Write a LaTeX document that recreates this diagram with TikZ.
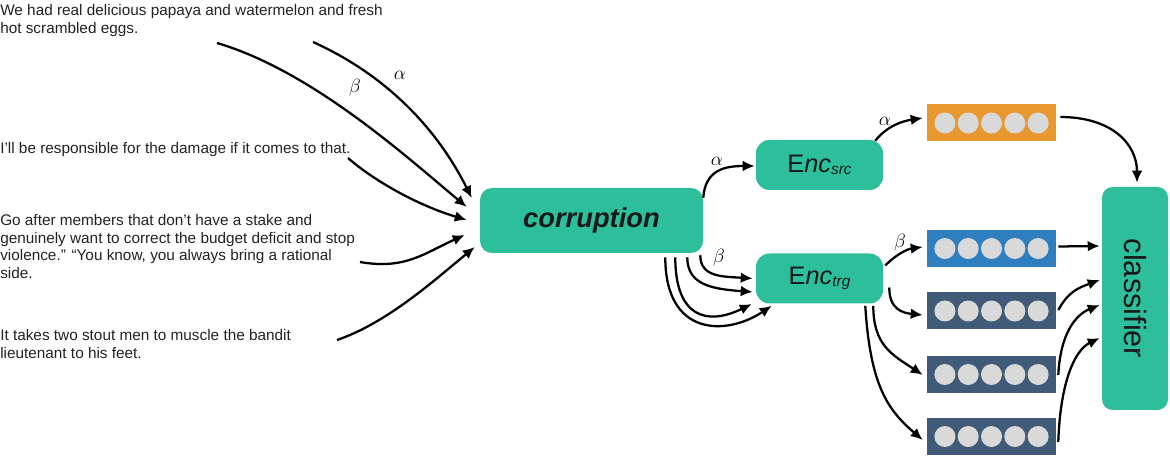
\documentclass[tikz,border=0pt]{standalone}
\usepackage{fontspec}
\setmainfont{Liberation Sans}
\usetikzlibrary{arrows.meta,calc}
\definecolor{tealc}{HTML}{2DBE9B}
\definecolor{orangec}{HTML}{E8982F}
\definecolor{bluec}{HTML}{2F7EBE}
\definecolor{darkc}{HTML}{3F5B77}
\definecolor{dotc}{HTML}{D9D9D9}
\definecolor{textc}{HTML}{222222}
\begin{document}
\begin{tikzpicture}[x=0.75pt,y=-0.75pt,
  box/.style={fill=tealc, rounded corners=9pt, inner sep=0pt, align=center, text=black!90},
  vec/.style={rectangle, inner sep=0pt, minimum width=96.75pt, minimum height=27.75pt},
  dot/.style={circle, fill=dotc, inner sep=0pt, minimum size=15.75pt},
  arr/.style={-{Latex[length=9pt,width=8pt]}, line width=1.7pt},
  txt/.style={anchor=north west, inner sep=0pt, align=left, font=\fontsize{11.5}{13.3}\selectfont, text=textc},
  lab/.style={font=\Large, inner sep=0pt}]
\useasboundingbox (0,0) rectangle (1170,473);

% input sentences
\node[txt] (t1) at (0,4) {We had real delicious papaya and watermelon and fresh\\hot scrambled eggs.};
\node[txt] (t2) at (0,142) {I'll be responsible for the damage if it comes to that.};
\node[txt] (t3) at (0,214) {Go after members that don't have a stake and\\genuinely want to correct the budget deficit and stop\\violence.'' ``You know, you always bring a rational\\side.};
\node[txt] (t4) at (0,329) {It takes two stout men to muscle the bandit\\lieutenant to his feet.};

% main boxes
\node[box, minimum width=167.25pt, minimum height=48.75pt] (corr) at (591.5,220.5)
  {\fontsize{20.5}{24}\selectfont\bfseries\itshape corruption};
\node[box, rounded corners=10pt, minimum width=95.25pt, minimum height=37.5pt] (encs) at (819.5,165)
  {\fontsize{19}{20}\selectfont E\textit{nc}\raisebox{-2pt}{\fontsize{11.5}{12}\selectfont\textit{src}}};
\node[box, rounded corners=10pt, minimum width=95.25pt, minimum height=37.5pt] (enct) at (819.5,278.5)
  {\fontsize{19}{20}\selectfont E\textit{nc}\raisebox{-2pt}{\fontsize{11.5}{12}\selectfont\textit{trg}}};
\node[box, rounded corners=8pt, minimum width=49.5pt, minimum height=167.25pt] (cls) at (1135,298.5)
  {\rotatebox{-90}{\fontsize{23}{25}\selectfont classifier}};

% vectors
\node[vec, fill=orangec] (orng) at (991.5,123) {};
\node[vec, fill=bluec] (blue) at (991.5,248.5) {};
\node[vec, fill=darkc] (d1) at (991.5,311) {};
\node[vec, fill=darkc] (d2) at (991.5,374.5) {};
\node[vec, fill=darkc] (d3) at (991.5,436.5) {};
\foreach \v in {orng,blue,d1,d2,d3}{
  \foreach \k in {-2,-1,0,1,2}{
    \node[dot] (\v-\k) at ($(\v)+(\k*23.3,0)$) {};
  }
}

% start coordinates of the input arrows
\coordinate (sa) at (313,42);
\coordinate (sb) at (217,43);
\coordinate (s2) at (348,158);
\coordinate (s3) at (360,262);
\coordinate (s4) at (337,340);

\draw[arr] (sa) .. controls +(73,33) and +(-35,-70) .. ($(corr.west)+(-8,-22.5)$);
\draw[arr] (sb) .. controls +(95,28) and +(-60,-50) .. ($(corr.west)+(-13,-13.5)$);
\draw[arr] (s2) .. controls +(25,22) and +(-50,-15) .. ($(corr.west)+(-13,-0.5)$);
\draw[arr] (s3) .. controls +(45,8) and +(-40,18) .. ($(corr.west)+(-15,14.5)$);
\draw[arr] (s4) .. controls +(50,-17) and +(-40,33) .. ($(corr.west)+(-5,26.5)$);
\node[lab] (la1) at (400,75) {$\alpha$};
\node[lab] (lb1) at (355,88) {$\beta$};

% corruption -> encoders
\draw[arr] ($(corr.north east)+(0,10)$) .. controls +(2,-28) and +(-30,0) .. ($(encs.west)+(-1,1)$);
\node[lab] (la2) at (717,161) {$\alpha$};
\draw[arr] ($(corr.south east)+(-3,2)$) .. controls +(0,22) and +(-30,-2) .. ($(enct.west)+(-3,0)$);
\node[lab] (lb2) at (719,258) {$\beta$};
\draw[arr] ($(corr.south east)+(-16,4)$) .. controls +(0,28) and +(-40,-3) .. ($(enct.west)+(-3,13.5)$);
\draw[arr] ($(corr.south east)+(-28,4)$) .. controls +(0,60) and +(-45,22) .. ($(enct.west)+(-4,25.5)$);
\draw[arr] ($(corr.south east)+(-38,4)$) .. controls +(0,80) and +(-45,30) .. ($(enct.south west)+(16,2)$);

% encoders -> vectors
\draw[arr] ($(encs.north east)+(-8,1)$) .. controls +(12,-15) and +(-20,3) .. ($(orng.west)+(-4,-5)$);
\node[lab] (la3) at (885,121) {$\alpha$};
\draw[arr] ($(enct.east)+(2,-13)$) .. controls +(12,-12) and +(-15,2) .. ($(blue.west)+(-4,-1.5)$);
\node[lab] (lb3) at (900,243) {$\beta$};
\draw[arr] ($(enct.east)+(6,9)$) .. controls +(0,22) and +(-20,-2) .. ($(d1.west)+(-4,4)$);
\draw[arr] ($(enct.south east)+(-10,2)$) .. controls +(0,40) and +(-30,-20) .. ($(d2.west)+(-4,0.5)$);
\draw[arr] ($(enct.south east)+(-18,2)$) .. controls +(5,80) and +(-35,-30) .. ($(d3.west)+(-4,3.5)$);

% vectors -> classifier
\draw[arr] ($(orng.east)+(4,-6)$) .. controls +(50,0) and +(0,-40) .. ($(cls.north)+(2,-4)$);
\draw[arr] ($(blue.east)+(2,-2)$) -- ($(cls.west)+(-2,-52.5)$);
\draw[arr] ($(d1.east)+(2,-1)$) .. controls +(10,-18) and +(-22,8) .. ($(cls.west)+(-2,-18.5)$);
\draw[arr] ($(d2.east)+(2,0.5)$) .. controls +(2,-40) and +(-25,10) .. ($(cls.west)+(-2,6.5)$);
\draw[arr] ($(d3.east)+(2,5.5)$) .. controls +(2,-60) and +(-25,12) .. ($(cls.west)+(-2,39.5)$);
\end{tikzpicture}
\end{document}
